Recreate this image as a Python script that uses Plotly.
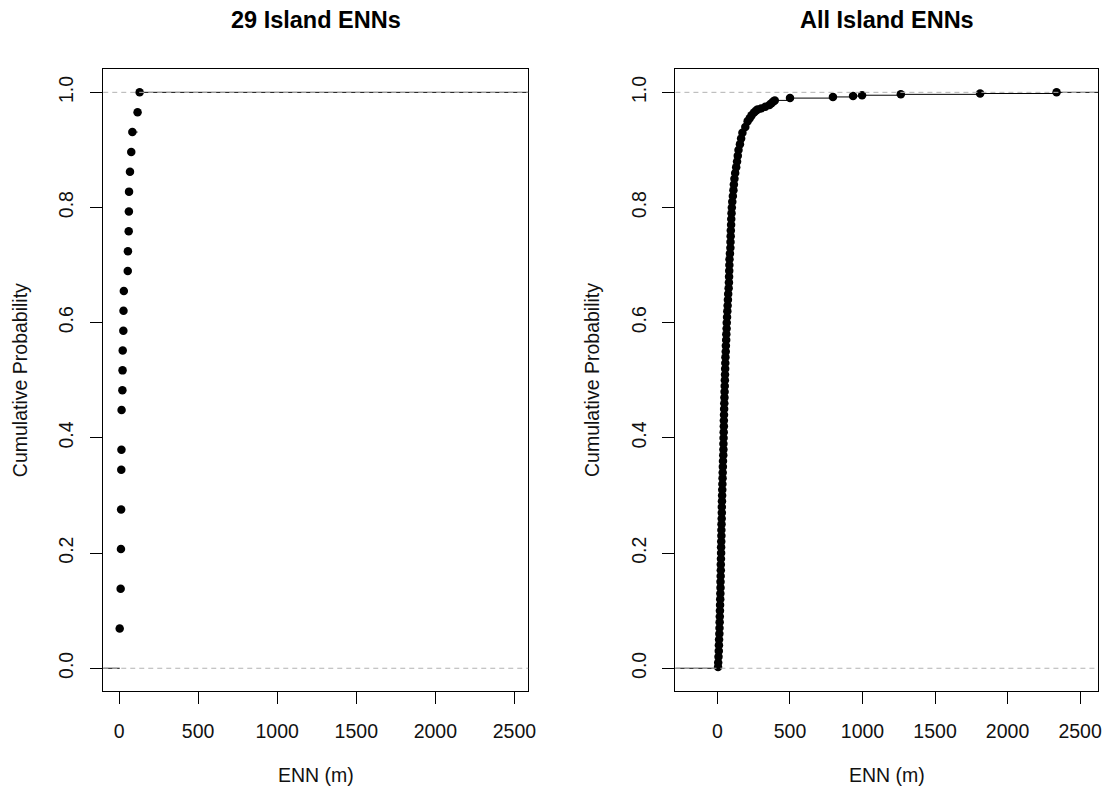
import numpy as np
import plotly.graph_objects as go

# ---------------- data ----------------
# 29 island ENN values (m) (ties included)
island29_enn = [4, 4, 10, 10, 12, 12, 13, 13, 14, 14, 15, 16, 16,
                21, 22, 23, 27, 28, 30, 55, 56, 61, 62, 63, 69, 77, 84, 117, 130]

# All islands: ENN (m) and the cumulative probability
all_enn = [4, 5, 7, 9, 10, 11, 13, 14, 15, 16, 17, 18, 19, 20, 21, 21, 22, 23, 23, 24,
           25, 25, 26, 27, 27, 28, 29, 30, 30, 31, 32, 33, 34, 35, 36, 37, 38, 40, 41, 41,
           42, 43, 44, 44, 45, 46, 47, 48, 49, 50, 51, 52, 53, 54, 55, 57, 58, 60, 61, 63,
           64, 66, 68, 70, 72, 74, 77, 79, 80, 81, 82, 83, 86, 89, 90, 91, 92, 94, 95, 97,
           99, 102, 106, 110, 113, 117, 122, 129, 135, 140, 145, 155, 163, 172, 192, 208,
           222, 235, 252, 265, 276, 301, 330, 358, 372, 385, 395,
           500, 796, 935, 997, 1264, 1811, 2338]
all_cdf = [0.002, 0.01, 0.02, 0.03, 0.04, 0.05, 0.06, 0.07, 0.08, 0.09, 0.10, 0.11, 0.12,
           0.13, 0.14, 0.15, 0.16, 0.17, 0.18, 0.19, 0.20, 0.21, 0.22, 0.23, 0.24, 0.25,
           0.26, 0.27, 0.28, 0.29, 0.30, 0.31, 0.32, 0.33, 0.34, 0.35, 0.36, 0.37, 0.38,
           0.39, 0.40, 0.41, 0.42, 0.43, 0.44, 0.45, 0.46, 0.47, 0.48, 0.49, 0.50, 0.51,
           0.52, 0.53, 0.54, 0.55, 0.56, 0.57, 0.58, 0.59, 0.60, 0.61, 0.62, 0.63, 0.64,
           0.65, 0.66, 0.67, 0.68, 0.69, 0.70, 0.71, 0.72, 0.73, 0.74, 0.75, 0.76, 0.77,
           0.78, 0.79, 0.80, 0.81, 0.82, 0.83, 0.84, 0.85, 0.86, 0.87, 0.88, 0.89, 0.90,
           0.91, 0.92, 0.93, 0.94, 0.95, 0.955, 0.96, 0.965, 0.968, 0.970, 0.972, 0.975,
           0.978, 0.981, 0.984, 0.986,
           0.990, 0.992, 0.9935, 0.995, 0.9965, 0.998, 1.0]

x_ticks = [0, 500, 1000, 1500, 2000, 2500]
y_ticks = [0.0, 0.2, 0.4, 0.6, 0.8, 1.0]
y_ticklabels = ["0.0", "0.2", "0.4", "0.6", "0.8", "1.0"]
titles = ["29 Island ENNs", "All Island ENNs"]
x_title = "ENN (m)"
y_title = "Cumulative Probability"

# ---------------- helpers ----------------
def ecdf(values):
    v = np.sort(np.asarray(values, dtype=float))
    u = np.unique(v)
    return u, np.searchsorted(v, u, side="right") / len(v)


def step_segments(xs, ys, lo=-10000, hi=10000):
    sx, sy = [lo, xs[0], None], [0, 0, None]
    for i in range(len(xs) - 1):
        sx += [xs[i], xs[i + 1], None]
        sy += [ys[i], ys[i], None]
    sx += [xs[-1], hi]
    sy += [ys[-1], ys[-1]]
    return sx, sy


W, H = 1114, 793
FONT = "Liberation Sans, Arial, sans-serif"
FS = 19.5

x1u, y1u = ecdf(island29_enn)
x2u, y2u = list(all_enn), list(all_cdf)

fig = go.Figure()
for (xs, ys), xa, ya in [((list(x1u), list(y1u)), "x", "y"), ((x2u, y2u), "x2", "y2")]:
    sx, sy = step_segments(xs, ys)
    fig.add_trace(go.Scatter(x=sx, y=sy, mode="lines", line=dict(color="black", width=1),
                             xaxis=xa, yaxis=ya, showlegend=False, hoverinfo="skip"))
    fig.add_trace(go.Scatter(x=xs, y=ys, mode="markers",
                             marker=dict(color="black", size=8.5, line=dict(width=0)),
                             xaxis=xa, yaxis=ya, showlegend=False))

# panel geometry (px)
left_dom = [104 / W, 532 / W]
right_dom = [680.3 / W, 1106 / W]
y_dom = [(H - 691.3) / H, (H - 69.3) / H]

common_x = dict(tickvals=x_ticks, ticks="outside", ticklen=12, tickwidth=1, tickcolor="black",
                showline=True, mirror=True, linecolor="black", linewidth=1,
                showgrid=False, zeroline=False, ticklabelstandoff=10,
                tickfont=dict(family=FONT, size=FS, color="#111"))
common_y = dict(range=[-0.04, 1.04], tickvals=y_ticks, ticktext=y_ticklabels,
                ticks="outside", ticklen=12, tickwidth=1, tickcolor="black",
                showline=True, mirror=True, linecolor="black", linewidth=1,
                showgrid=False, zeroline=False, tickangle=-90, ticklabelstandoff=9,
                tickfont=dict(family=FONT, size=FS, color="#111"))

fig.update_layout(
    width=W, height=H,
    margin=dict(l=0, r=0, t=0, b=0),
    paper_bgcolor="white", plot_bgcolor="white",
    xaxis=dict(domain=left_dom, range=[-100, 2587], anchor="y", **common_x),
    yaxis=dict(domain=y_dom, anchor="x", **common_y),
    xaxis2=dict(domain=right_dom, range=[-290, 2624], anchor="y2", **common_x),
    yaxis2=dict(domain=y_dom, anchor="x2", **common_y),
    showlegend=False,
)

# dashed 0/1 reference lines (gray, above the data)
for xr, yr in [("x", "y"), ("x2", "y2")]:
    for h in (0, 1):
        fig.add_shape(type="line", xref=f"{xr} domain", yref=yr, x0=0, x1=1, y0=h, y1=h,
                      line=dict(color="#b3b3b3", width=1, dash="5px,4px"), layer="above")

# titles and axis titles
centers = [(left_dom[0] + left_dom[1]) / 2, (right_dom[0] + right_dom[1]) / 2]
ylab_x = [20 / W, 597 / W]
for i, c in enumerate(centers):
    fig.add_annotation(text=f"<b>{titles[i]}</b>", x=c, y=(H - 20) / H, xref="paper", yref="paper",
                       showarrow=False, font=dict(family=FONT, size=23.5, color="black"),
                       xanchor="center", yanchor="middle")
    fig.add_annotation(text=x_title, x=c, y=(H - 775) / H, xref="paper", yref="paper",
                       showarrow=False, font=dict(family=FONT, size=FS, color="#111"),
                       xanchor="center", yanchor="middle")
    fig.add_annotation(text=y_title, x=ylab_x[i], y=(y_dom[0] + y_dom[1]) / 2,
                       xref="paper", yref="paper", showarrow=False, textangle=-90,
                       font=dict(family=FONT, size=FS, color="#111"),
                       xanchor="center", yanchor="middle")

fig.write_html("out.html")
